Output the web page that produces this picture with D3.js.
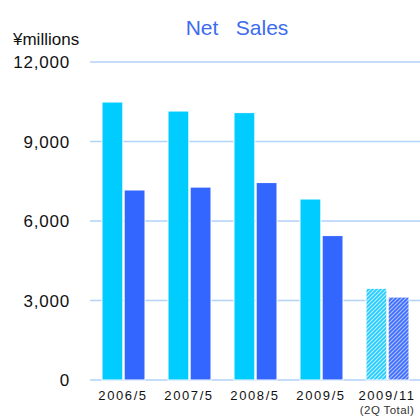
<!DOCTYPE html>
<html>
<head>
<meta charset="utf-8">
<script src="https://cdn.jsdelivr.net/npm/d3@7"></script>
<style>
  body { margin: 0; background: #fff; }
  svg { display: block; font-family: Arial, "Liberation Sans", sans-serif; }
</style>
</head>
<body>
<svg id="chart"></svg>
<script>
// chart data
const categories = ["2006/5", "2007/5", "2008/5", "2009/5", "2009/11"];
const subLabels = ["", "", "", "", "(2Q Total)"];
const seriesA = [10490, 10150, 10090, 6830, 3460];
const seriesB = [7170, 7280, 7450, 5450, 3130];
const yTicks = [0, 3000, 6000, 9000, 12000];
const hatched = [false, false, false, false, true];

const width = 420;
const height = 416;
const margin = { top: 62, right: 0, bottom: 36, left: 90 };

const svg = d3.select("#chart")
  .attr("width", width)
  .attr("height", height);

const x0 = d3.scaleBand()
  .domain(categories)
  .range([margin.left, width - margin.right]);

const x1 = d3.scaleBand()
  .domain([0, 1])
  .range([12, 55])
  .paddingInner(0.06);

const y = d3.scaleLinear()
  .domain([0, 12000])
  .range([height - margin.bottom, margin.top]);

// hatch patterns for the half year bars
const defs = svg.append("defs");
function hatch(id, bg, fg) {
  const p = defs.append("pattern")
    .attr("id", id)
    .attr("patternUnits", "userSpaceOnUse")
    .attr("width", 4)
    .attr("height", 4);
  p.append("rect").attr("width", 4).attr("height", 4).attr("fill", bg);
  p.append("path")
    .attr("d", "M-1,1 l2,-2 M0,4 l4,-4 M3,5 l2,-2")
    .attr("stroke", fg)
    .attr("stroke-width", 1.6);
}
hatch("hatchA", "#b8eeff", "#22ccff");
hatch("hatchB", "#a9c0ff", "#3d6cff");

// grid lines
svg.append("g")
  .selectAll("line")
  .data(yTicks)
  .join("line")
  .attr("x1", margin.left)
  .attr("x2", width)
  .attr("y1", d => y(d))
  .attr("y2", d => y(d))
  .attr("stroke", "#b2d2f8")
  .attr("stroke-width", 1.5);

// y tick labels
svg.append("g")
  .selectAll("text")
  .data(yTicks)
  .join("text")
  .attr("x", 70)
  .attr("y", d => y(d))
  .attr("dy", "0.36em")
  .attr("text-anchor", "end")
  .attr("font-size", 17)
  .attr("letter-spacing", 0.8)
  .attr("fill", "#111")
  .text(d => d3.format(",")(d));

// bars
const groups = svg.append("g")
  .selectAll("g")
  .data(categories.map((c, i) => ({ cat: c, vals: [seriesA[i], seriesB[i]], hatched: hatched[i] })))
  .join("g")
  .attr("transform", d => `translate(${x0(d.cat)},0)`);

groups.selectAll("rect")
  .data(d => d.vals.map((v, j) => ({ v, j, hatched: d.hatched })))
  .join("rect")
  .attr("x", d => x1(d.j))
  .attr("width", x1.bandwidth())
  .attr("y", d => y(d.v))
  .attr("height", d => y(0) - y(d.v))
  .attr("fill", d => d.hatched
    ? (d.j === 0 ? "url(#hatchA)" : "url(#hatchB)")
    : (d.j === 0 ? "#00ccff" : "#3366ff"))
  .attr("stroke", "#fff")
  .attr("stroke-width", 1);

// x labels
const xl = svg.append("g")
  .selectAll("g")
  .data(categories)
  .join("g")
  .attr("transform", d => `translate(${x0(d) + x0.bandwidth() / 2},0)`);

xl.append("text")
  .attr("y", 400)
  .attr("text-anchor", "middle")
  .attr("font-size", 13)
  .attr("letter-spacing", 1.6)
  .attr("fill", "#111")
  .text(d => d);

xl.append("text")
  .attr("y", 414)
  .attr("text-anchor", "middle")
  .attr("font-size", 11.5)
  .attr("letter-spacing", 0.4)
  .attr("fill", "#333")
  .text((d, i) => subLabels[i]);

// unit label
svg.append("text")
  .attr("x", 13)
  .attr("y", 45)
  .attr("font-size", 17)
  .attr("fill", "#111")
  .text("¥millions");

// title
svg.append("text")
  .attr("x", 237)
  .attr("y", 35)
  .attr("text-anchor", "middle")
  .attr("font-size", 21)
  .attr("fill", "#3d6bf0")
  .style("white-space", "pre")
  .text("Net   Sales");
</script>
</body>
</html>
